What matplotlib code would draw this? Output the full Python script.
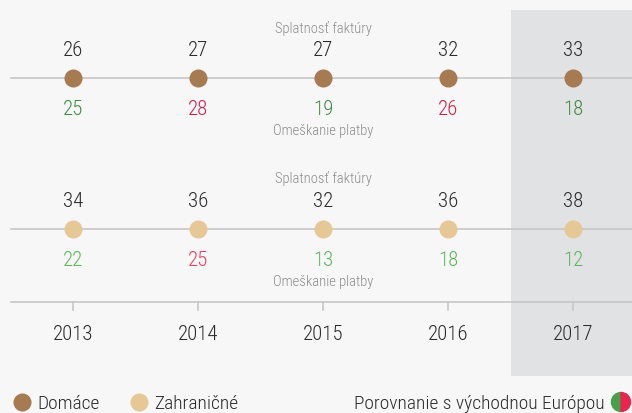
import matplotlib.pyplot as plt
from matplotlib.patches import Wedge
from matplotlib.transforms import IdentityTransform

years = ['2013', '2014', '2015', '2016', '2017']
domace_splatnost = [26, 27, 27, 32, 33]
domace_omeskanie = [25, 28, 19, 26, 18]
domace_lepsie = [True, False, True, False, True]      # green = better than Eastern Europe
zahr_splatnost = [34, 36, 32, 36, 38]
zahr_omeskanie = [22, 25, 13, 18, 12]
zahr_lepsie = [True, False, True, True, True]

plt.rcParams['font.family'] = ['Roboto Condensed', 'DejaVu Sans']
plt.rcParams['font.weight'] = 'light'

BG = '#f7f7f7'
SHADE = '#e1e2e4'
LINE = '#c6c6c6'
BROWN = '#a67b52'
SAND = '#e6c896'
DARK = '#2b2b2b'

fig = plt.figure(figsize=(6.32, 4.14), dpi=100, facecolor=BG)
ax = fig.add_axes([0, 0, 1, 1])
ax.set_facecolor(BG)
step = 125.0
ax.set_xlim(-73 / step, (632 - 73) / step)
ax.set_ylim(414, 0)   # vertical layout in pixels from top
ax.axis('off')

x = list(range(len(years)))
x0 = -62 / step

# highlighted last year
ax.axvspan(x[-1] - 0.5, x[-1] + 1.0, ymin=(414 - 377) / 414, ymax=(414 - 11) / 414,
           color=SHADE, zorder=0, lw=0)

rows = [
    (79, domace_splatnost, domace_omeskanie, domace_lepsie, BROWN, '#3f8b42', '#cf1f47'),
    (230, zahr_splatnost, zahr_omeskanie, zahr_lepsie, SAND, '#5cb65c', '#ef3b5c'),
]
for yl, top, bot, good, col, gcol, rcol in rows:
    ax.plot([x0, 5], [yl, yl], color=LINE, lw=1.2, zorder=1)
    ax.plot(x, [yl] * len(x), 'o', ms=13, color=col, mec='none', zorder=3)
    ax.text(2, yl - 51, 'Splatnosť faktúry', ha='center', va='center', fontsize=10.5, color='#8c8c8c')
    ax.text(2, yl + 52, 'Omeškanie platby', ha='center', va='center', fontsize=10.5, color='#8c8c8c')
    for xi, t, b, g in zip(x, top, bot, good):
        ax.text(xi, yl - 28, str(t), ha='center', va='center', fontsize=15, color=DARK)
        ax.text(xi, yl + 31, str(b), ha='center', va='center', fontsize=15,
                color=gcol if g else rcol)

# x axis
ax.plot([x0, 5], [303, 303], color=LINE, lw=1.2, zorder=1)
for xi, yr in zip(x, years):
    ax.plot([xi, xi], [303, 311], color=LINE, lw=1.2, zorder=1)
    ax.text(xi, 335, yr, ha='center', va='center', fontsize=15, color=DARK)

# legend
ax.plot([(22 - 73) / step], [403], 'o', ms=13, color=BROWN, mec='none', clip_on=False)
ax.text((37 - 73) / step, 404, 'Domáce', ha='left', va='center', fontsize=14, color=DARK)
ax.plot([(139 - 73) / step], [403], 'o', ms=13, color=SAND, mec='none', clip_on=False)
ax.text((154 - 73) / step, 404, 'Zahraničné', ha='left', va='center', fontsize=14, color=DARK)
ax.text((605 - 73) / step, 404, 'Porovnanie s východnou Európou', ha='right', va='center',
        fontsize=14, color=DARK)

# half green / half red circle, in pixels
cx, cy, r = 621, 414 - 403, 9.5
fig.patches.append(Wedge((cx, cy), r, 90, 270, color='#47a04b', transform=IdentityTransform()))
fig.patches.append(Wedge((cx, cy), r, -90, 90, color='#e8254f', transform=IdentityTransform()))

fig.savefig('out.png', dpi=100, facecolor=BG)
